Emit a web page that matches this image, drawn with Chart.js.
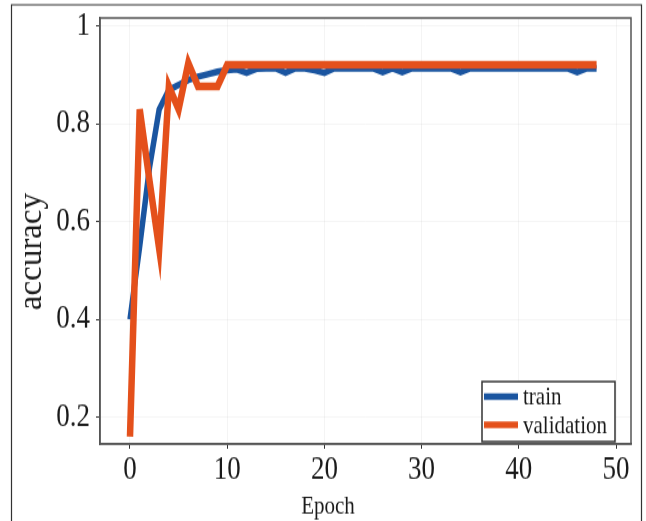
<!DOCTYPE html>
<html>
<head>
<meta charset="utf-8">
<title>accuracy</title>
<script src="https://cdn.jsdelivr.net/npm/chart.js@4.4.1/dist/chart.umd.min.js"></script>
<style>
  html, body { margin: 0; padding: 0; background: #fff; }
  /* the figure is drawn 1.2x taller than wide, as in the printed version */
  #wrap {
    position: absolute; left: 0; top: 0;
    width: 646px; height: 434px;
    transform: scale(1, 1.2);
    transform-origin: 0 0;
  }
</style>
</head>
<body>
<div id="wrap"><canvas id="acc" width="646" height="434"></canvas></div>
<script>
// Training history
const epochs = [
  0, 1, 2, 3, 4, 5, 6, 7, 8, 9,
  10, 11, 12, 13, 14, 15, 16, 17, 18, 19,
  20, 21, 22, 23, 24, 25, 26, 27, 28, 29,
  30, 31, 32, 33, 34, 35, 36, 37, 38, 39,
  40, 41, 42, 43, 44, 45, 46, 47, 48
];
const trainAcc = [
  0.40, 0.55, 0.71, 0.83, 0.87, 0.88, 0.89, 0.897, 0.902, 0.907,
  0.91, 0.912, 0.905, 0.913, 0.914, 0.914, 0.905, 0.914, 0.914, 0.91,
  0.905, 0.914, 0.914, 0.914, 0.914, 0.914, 0.906, 0.914, 0.906, 0.914,
  0.914, 0.914, 0.914, 0.914, 0.906, 0.914, 0.914, 0.914, 0.914, 0.914,
  0.914, 0.914, 0.914, 0.914, 0.914, 0.914, 0.906, 0.914, 0.914
];
const valAcc = [
  0.16, 0.83, 0.685, 0.545, 0.877, 0.83, 0.925, 0.877, 0.877, 0.877,
  0.921, 0.921, 0.921, 0.921, 0.921, 0.921, 0.921, 0.921, 0.921, 0.921,
  0.921, 0.921, 0.921, 0.921, 0.921, 0.921, 0.921, 0.921, 0.921, 0.921,
  0.921, 0.921, 0.921, 0.921, 0.921, 0.921, 0.921, 0.921, 0.921, 0.921,
  0.921, 0.921, 0.921, 0.921, 0.921, 0.921, 0.921, 0.921, 0.921
];

const xTicks = [0, 10, 20, 30, 40, 50];
const yTicks = [0.2, 0.4, 0.6, 0.8, 1];
const yTickLabels = ['0.2', '0.4', '0.6', '0.8', '1'];

const seriesNames = ['train', 'validation'];
const seriesColours = ['#1a55a0', '#e4501b'];

const STRETCH = 1.2;
const SERIF = '"Liberation Serif", "Times New Roman", serif';
const INK = '#1a1a1a';

// Frames, legend box and axis titles
const decorations = {
  id: 'decorations',
  afterDatasetsDraw(chart) {
    const { ctx, chartArea: a } = chart;
    ctx.save();

    // box round the plot
    ctx.strokeStyle = '#555';
    ctx.lineWidth = 1.5;
    ctx.strokeRect(a.left, a.top, a.right - a.left, a.bottom - a.top);

    // outer frame
    ctx.strokeStyle = '#333';
    ctx.lineWidth = 1.2;
    ctx.beginPath();
    ctx.moveTo(11.5, 434);
    ctx.lineTo(11.5, 4);
    ctx.lineTo(641.5, 4);
    ctx.lineTo(641.5, 434);
    ctx.stroke();

    // legend, bottom right inside the plot
    const lx = 482, ly = 318, lw = 133, lh = 50;
    ctx.fillStyle = '#fff';
    ctx.fillRect(lx, ly, lw, lh);
    ctx.strokeStyle = '#333';
    ctx.lineWidth = 1.5;
    ctx.strokeRect(lx, ly, lw, lh);
    const rows = [330.5, 354];
    ctx.font = `21px ${SERIF}`;
    ctx.textAlign = 'left';
    ctx.textBaseline = 'middle';
    chart.data.datasets.forEach((ds, i) => {
      ctx.strokeStyle = ds.borderColor;
      ctx.lineWidth = 5.5;
      ctx.lineCap = 'butt';
      ctx.beginPath();
      ctx.moveTo(lx + 2, rows[i]);
      ctx.lineTo(lx + 36, rows[i]);
      ctx.stroke();
      ctx.fillStyle = INK;
      ctx.fillText(ds.label, lx + 41, rows[i] + 1);
    });

    // x title
    ctx.fillStyle = INK;
    ctx.font = `21px ${SERIF}`;
    ctx.textAlign = 'center';
    ctx.textBaseline = 'alphabetic';
    ctx.fillText('Epoch', 328, 428);

    // y title, kept at normal proportions
    ctx.translate(32.5, 209.6);
    ctx.scale(1, 1 / STRETCH);
    ctx.rotate(-Math.PI / 2);
    ctx.font = `33px ${SERIF}`;
    ctx.textAlign = 'center';
    ctx.textBaseline = 'middle';
    ctx.fillText('accuracy', 0, 0);

    ctx.restore();
  }
};

new Chart(document.getElementById('acc'), {
  type: 'line',
  data: {
    labels: epochs,
    datasets: [
      {
        label: seriesNames[0],
        data: trainAcc,
        borderColor: seriesColours[0],
        borderWidth: 5.5,
        pointRadius: 0,
        tension: 0,
        order: 1
      },
      {
        label: seriesNames[1],
        data: valAcc,
        borderColor: seriesColours[1],
        borderWidth: 6.5,
        pointRadius: 0,
        tension: 0,
        order: 0
      }
    ]
  },
  options: {
    responsive: false,
    animation: false,
    layout: { padding: { left: 0, right: 15, top: 15, bottom: 0 } },
    plugins: {
      legend: { display: false },
      tooltip: { enabled: false }
    },
    scales: {
      x: {
        type: 'linear',
        min: -3.086,
        max: 51.54,
        afterBuildTicks: (s) => { s.ticks = xTicks.map((v) => ({ value: v })); },
        afterFit: (s) => { s.height = 64; s.paddingLeft = 0; s.paddingRight = 0; },
        grid: { color: 'rgba(0,0,0,0.045)', tickColor: '#333', tickLength: 4 },
        border: { color: '#555', width: 1.5 },
        ticks: {
          autoSkip: false,
          maxRotation: 0,
          padding: 2,
          color: INK,
          font: { family: SERIF, size: 27 }
        }
      },
      y: {
        min: 0.145,
        max: 1.017,
        afterBuildTicks: (s) => { s.ticks = yTicks.map((v) => ({ value: v })); },
        afterFit: (s) => { s.width = 100; s.paddingTop = 0; s.paddingBottom = 0; },
        grid: { color: 'rgba(0,0,0,0.045)', tickColor: '#333', tickLength: 4 },
        border: { color: '#555', width: 1.5 },
        ticks: {
          autoSkip: false,
          padding: 6,
          color: INK,
          font: { family: SERIF, size: 27 },
          callback: (v, i) => yTickLabels[i]
        }
      }
    }
  },
  plugins: [decorations]
});
</script>
</body>
</html>
